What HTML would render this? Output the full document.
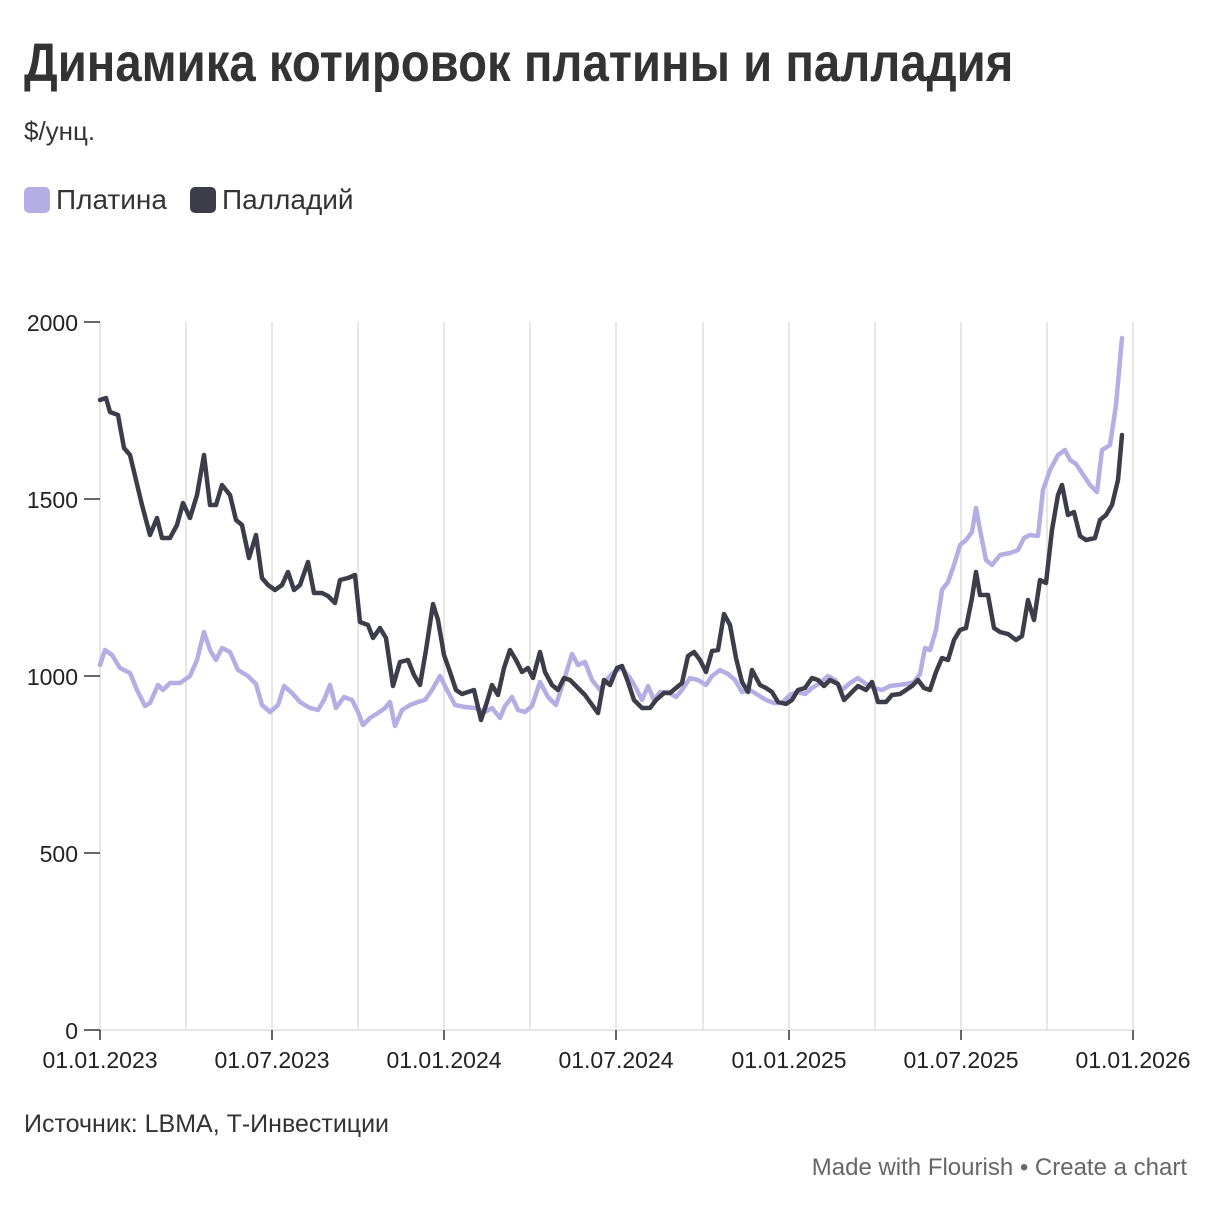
<!DOCTYPE html>
<html><head><meta charset="utf-8"><style>
body{margin:0;background:#fff;width:1221px;height:1210px;overflow:hidden;font-family:"Liberation Sans",sans-serif;color:#333}
.t{position:absolute;left:24px;top:32px;font-size:54px;font-weight:bold;color:#333;white-space:nowrap;transform:scaleX(0.876);transform-origin:0 0}
.s{position:absolute;left:24px;top:116px;font-size:26px;color:#333}
.lg{position:absolute;top:184px;font-size:28px;color:#333}
.sw{display:inline-block;width:26px;height:26px;border-radius:5px;vertical-align:-4px;margin-right:6px}
.src{position:absolute;left:24px;top:1110px;font-size:25px;color:#333}
.fl{position:absolute;right:34px;top:1154px;font-size:24px;color:#666;font-family:"Liberation Sans",sans-serif}
</style></head><body>
<div class="t">Динамика котировок платины и палладия</div>
<div class="s">$/унц.</div>
<div class="lg" style="left:24px"><span class="sw" style="background:#b3aee3"></span>Платина</div>
<div class="lg" style="left:190px"><span class="sw" style="background:#3d3d4a"></span>Палладий</div>
<svg width="1221" height="1210" style="position:absolute;left:0;top:0">
<g stroke="#e6e6e6" stroke-width="2">
<line x1="100" y1="322" x2="100" y2="1030"/><line x1="186" y1="322" x2="186" y2="1030"/><line x1="272" y1="322" x2="272" y2="1030"/><line x1="358" y1="322" x2="358" y2="1030"/><line x1="444" y1="322" x2="444" y2="1030"/><line x1="530" y1="322" x2="530" y2="1030"/><line x1="616" y1="322" x2="616" y2="1030"/><line x1="703" y1="322" x2="703" y2="1030"/><line x1="789" y1="322" x2="789" y2="1030"/><line x1="875" y1="322" x2="875" y2="1030"/><line x1="961" y1="322" x2="961" y2="1030"/><line x1="1047" y1="322" x2="1047" y2="1030"/><line x1="1133" y1="322" x2="1133" y2="1030"/>
<line x1="100" y1="1030" x2="1133" y2="1030"/>
</g>
<g stroke="#333" stroke-width="1.5">
<line x1="84" y1="322" x2="100" y2="322"/><line x1="84" y1="499" x2="100" y2="499"/><line x1="84" y1="676" x2="100" y2="676"/><line x1="84" y1="853" x2="100" y2="853"/><line x1="84" y1="1030" x2="100" y2="1030"/>
<line x1="100" y1="1030" x2="100" y2="1040"/><line x1="272" y1="1030" x2="272" y2="1040"/><line x1="444" y1="1030" x2="444" y2="1040"/><line x1="616" y1="1030" x2="616" y2="1040"/><line x1="789" y1="1030" x2="789" y2="1040"/><line x1="961" y1="1030" x2="961" y2="1040"/><line x1="1133" y1="1030" x2="1133" y2="1040"/>
</g>
<g font-family="Liberation Sans, sans-serif" font-size="23" fill="#222" text-anchor="end">
<text x="78" y="331">2000</text><text x="78" y="508">1500</text><text x="78" y="685">1000</text><text x="78" y="862">500</text><text x="78" y="1039">0</text>
</g>
<g font-family="Liberation Sans, sans-serif" font-size="23" fill="#222" text-anchor="middle">
<text x="100" y="1068">01.01.2023</text><text x="272" y="1068">01.07.2023</text><text x="444" y="1068">01.01.2024</text><text x="616" y="1068">01.07.2024</text><text x="789" y="1068">01.01.2025</text><text x="961" y="1068">01.07.2025</text><text x="1133" y="1068">01.01.2026</text>
</g>
<polyline fill="none" stroke="#b3aee3" stroke-width="4.5" stroke-linejoin="round" stroke-linecap="round" points="100,665 105,650 112,655 120,668 130,673 137,690 145,706 150,703 158,685 163,690 170,683 180,683 190,676 197,660 204,632 210,650 216,660 222,648 230,652 238,670 248,676 256,684 262,705 270,712 278,705 284,686 292,693 300,702 310,708 318,710 324,700 330,685 336,708 344,697 352,700 358,712 363,725 370,718 378,713 385,708 390,702 395,726 402,710 410,705 418,702 425,700 432,690 440,676 447,690 455,705 465,707 475,708 485,712 492,708 500,718 505,706 512,697 518,710 525,712 532,706 540,682 548,697 556,705 564,680 572,654 578,665 585,662 592,680 600,690 608,678 614,672 622,668 630,678 636,688 642,700 648,686 654,700 660,692 668,692 676,697 682,690 690,678 698,680 706,685 712,676 720,670 728,674 735,680 742,692 750,690 758,695 766,700 774,703 782,703 790,695 797,692 805,694 812,688 820,683 828,676 835,680 842,690 850,683 858,678 866,684 874,688 882,690 890,686 898,685 906,684 914,682 920,674 925,648 930,650 936,630 942,590 948,582 954,565 960,545 966,540 972,532 976,508 980,530 986,560 992,565 1000,555 1010,553 1018,550 1024,538 1030,535 1038,536 1043,490 1050,470 1058,455 1065,450 1070,460 1076,464 1082,473 1090,485 1097,492 1102,450 1110,445 1116,405 1122,338"/>
<polyline fill="none" stroke="#3d3d4a" stroke-width="4.5" stroke-linejoin="round" stroke-linecap="round" points="100,400 106,398 110,412 118,415 124,448 130,455 136,480 142,505 150,535 157,518 162,538 170,538 177,525 183,503 190,518 197,495 204,455 210,505 216,505 222,485 230,495 236,520 242,525 249,558 256,535 262,578 268,585 275,590 282,585 288,572 294,590 300,585 308,562 314,593 322,593 328,596 335,603 340,580 348,578 355,575 360,622 368,625 373,638 380,628 386,638 393,686 400,662 408,660 414,675 420,685 426,650 433,604 438,620 444,655 450,672 456,690 462,694 468,692 474,690 481,720 486,705 492,685 498,695 504,668 510,650 516,660 522,672 528,668 533,678 540,652 545,672 552,685 558,690 564,678 570,680 578,688 585,695 590,702 598,713 604,680 610,685 617,668 622,666 628,682 634,700 642,708 650,708 656,700 664,693 670,693 676,688 682,683 688,656 694,652 700,660 706,672 712,651 718,650 724,614 730,625 736,658 742,682 748,692 752,670 760,685 766,688 772,692 778,702 786,704 792,700 798,690 805,688 812,678 818,680 824,686 830,680 838,684 844,700 850,694 858,686 866,690 872,682 878,702 886,702 892,695 900,694 906,690 912,686 918,680 924,688 930,690 936,672 942,658 948,660 954,640 960,630 966,628 972,598 976,572 980,595 988,595 994,628 1000,632 1008,634 1016,640 1022,636 1028,600 1034,620 1040,580 1046,583 1052,530 1058,495 1062,485 1068,515 1074,512 1080,536 1086,540 1095,538 1100,520 1106,515 1112,505 1118,480 1122,435"/>
</svg>
<div class="src">Источник: LBMA, Т-Инвестиции</div>
<div class="fl">Made with Flourish • Create a chart</div>
</body></html>
